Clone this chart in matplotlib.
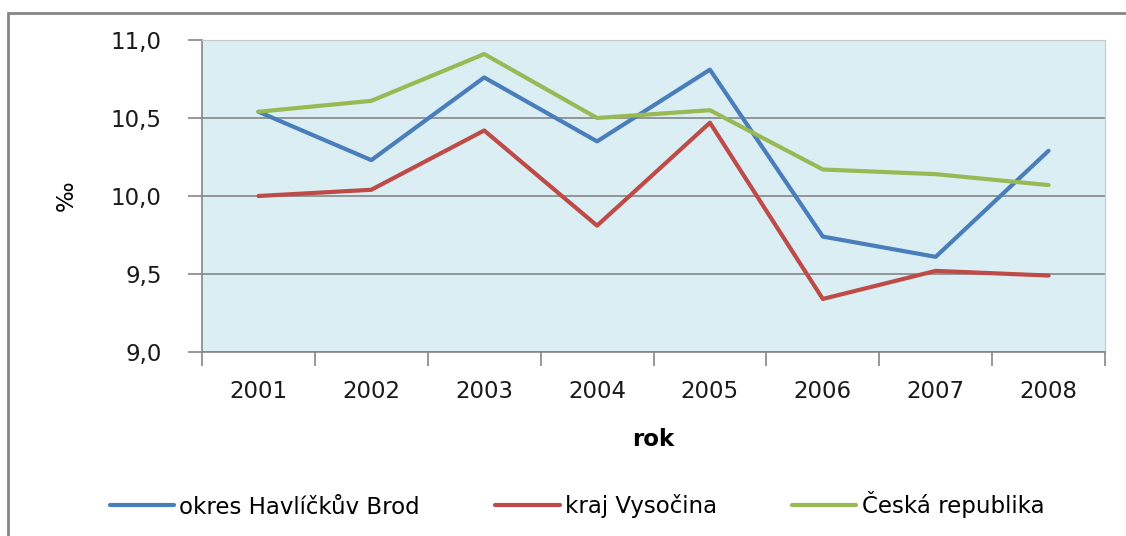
import matplotlib.pyplot as plt
from matplotlib.patches import Rectangle

years = ['2001', '2002', '2003', '2004', '2005', '2006', '2007', '2008']
havlickuv_brod = [10.54, 10.23, 10.76, 10.35, 10.81, 9.74, 9.61, 10.29]
vysocina = [10.00, 10.04, 10.42, 9.81, 10.47, 9.34, 9.52, 9.49]
cr = [10.54, 10.61, 10.91, 10.50, 10.55, 10.17, 10.14, 10.07]
series_names = ['okres Havlíčkův Brod', 'kraj Vysočina', 'Česká republika']
yticks = [9.0, 9.5, 10.0, 10.5, 11.0]

plt.rcParams['font.family'] = ['DejaVu Sans']
fs = 16.5

fig = plt.figure(figsize=(11.26, 5.36), dpi=100)
W, H = 1126, 536
ax = fig.add_axes([202 / W, 1 - 352 / H, 903 / W, 312 / H])

# outer chart border (cut off at right and bottom)
fig.patches.append(Rectangle((8 / W, -0.1), 1.2, 1 - 13 / H + 0.1,
                             transform=fig.transFigure, fill=False,
                             edgecolor='#868686', lw=2))

ax.set_facecolor('#DBEEF4')
x = range(len(years))
ax.plot(x, havlickuv_brod, color='#4A7EBB', lw=3, label=series_names[0],
        solid_capstyle='round')
ax.plot(x, vysocina, color='#BE4B48', lw=3, label=series_names[1],
        solid_capstyle='round')
ax.plot(x, cr, color='#98B954', lw=3, label=series_names[2],
        solid_capstyle='round')

ax.set_xlim(-0.5, len(years) - 0.5)
ax.set_ylim(9.0, 11.0)
ax.set_yticks(yticks)
ax.set_yticklabels([f'{v:.1f}'.replace('.', ',') for v in yticks])
ax.set_xticks([i - 0.5 for i in range(len(years) + 1)], minor=False)
ax.set_xticklabels([])
ax.set_xticks(list(x), minor=True)
ax.set_xticklabels(years, minor=True)
ax.tick_params(axis='x', which='minor', length=0, labelsize=fs, pad=20,
               labelcolor='#1a1a1a')
ax.tick_params(axis='x', which='major', length=10, color='#868686', width=1.2)
ax.tick_params(axis='y', length=10, color='#868686', width=1.2, labelsize=fs,
               pad=19, labelcolor='#1a1a1a')
ax.grid(axis='y', color='#868686', lw=1.2)
ax.set_axisbelow(True)
for side in ['top', 'right']:
    ax.spines[side].set_color('#c8c8c8')
for side in ['left', 'bottom']:
    ax.spines[side].set_color('#868686')
    ax.spines[side].set_linewidth(1.2)

ax.set_xlabel('rok', fontsize=fs, fontweight='bold', labelpad=18)
ax.set_ylabel('‰', fontsize=fs, labelpad=24)

fig.legend(loc='center', bbox_to_anchor=(577 / W, 1 - 505 / H), ncol=3,
           frameon=False, fontsize=fs, handlelength=2.8, handletextpad=0.22,
           columnspacing=3.3)

fig.savefig('out.png', dpi=100)
